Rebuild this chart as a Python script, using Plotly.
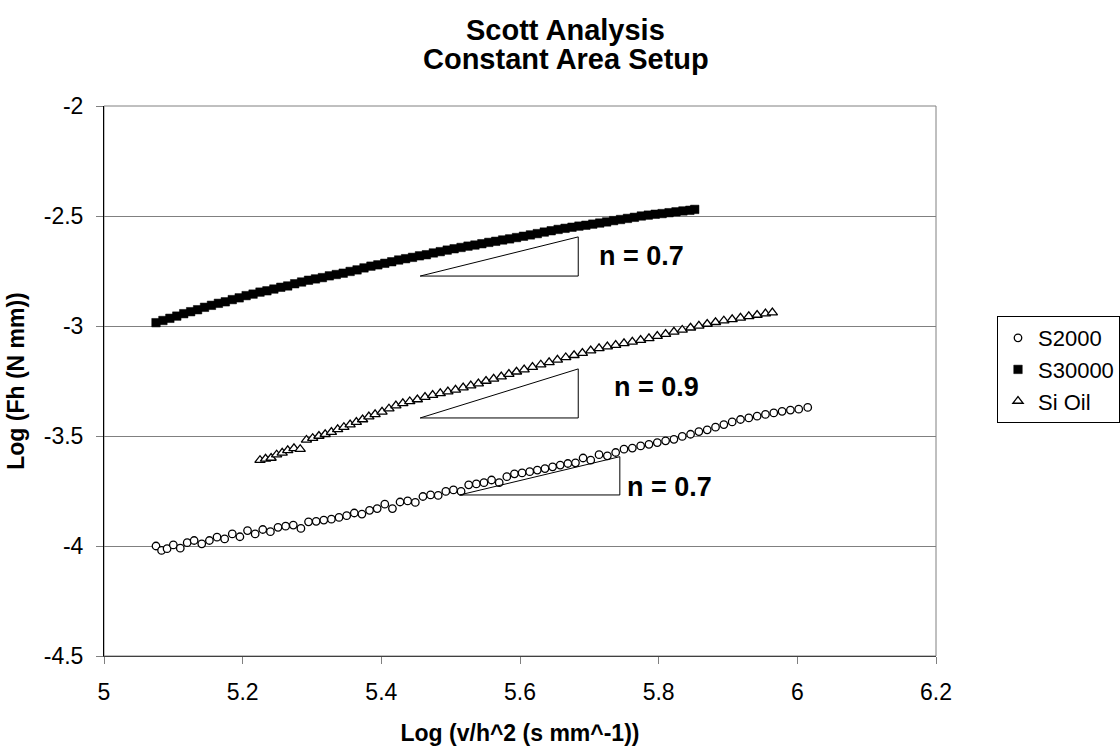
import plotly.graph_objects as go

FONT = "Liberation Sans, Arial, sans-serif"

title_lines = ["Scott Analysis", "Constant Area Setup"]
x_title = "Log (v/h^2 (s mm^-1))"
y_title = "Log (Fh (N mm))"
x_tickvals = [5, 5.2, 5.4, 5.6, 5.8, 6, 6.2]
x_ticktext = ["5", "5.2", "5.4", "5.6", "5.8", "6", "6.2"]
y_tickvals = [-4.5, -4, -3.5, -3, -2.5, -2]
y_ticktext = ["-4.5", "-4", "-3.5", "-3", "-2.5", "-2"]
series_names = ["S2000", "S30000", "Si Oil"]

s2000_x = [5.075, 5.083, 5.091, 5.100, 5.110, 5.120, 5.130, 5.141, 5.152, 5.163,
           5.174, 5.185, 5.196, 5.207, 5.218, 5.229, 5.240, 5.251, 5.262, 5.273,
           5.284, 5.295, 5.306, 5.317, 5.328, 5.339, 5.350, 5.361, 5.372, 5.383,
           5.394, 5.405, 5.416, 5.427, 5.438, 5.449, 5.460, 5.471, 5.482, 5.493,
           5.504, 5.515, 5.526, 5.537, 5.548, 5.559, 5.570, 5.581, 5.592, 5.603,
           5.614, 5.625, 5.636, 5.647, 5.658, 5.669, 5.680, 5.691, 5.702, 5.714,
           5.726, 5.738, 5.750, 5.762, 5.774, 5.786, 5.798, 5.810, 5.822, 5.834,
           5.846, 5.858, 5.870, 5.882, 5.894, 5.906, 5.918, 5.930, 5.942, 5.954,
           5.966, 5.978, 5.990, 6.002, 6.015]
s2000_y = [-4.000, -4.020, -4.012, -3.995, -4.010, -3.985, -3.975, -3.990, -3.975, -3.960,
           -3.968, -3.945, -3.958, -3.930, -3.945, -3.925, -3.935, -3.915, -3.910, -3.905,
           -3.920, -3.890, -3.888, -3.882, -3.878, -3.870, -3.862, -3.850, -3.855, -3.838,
           -3.830, -3.810, -3.830, -3.800, -3.795, -3.802, -3.775, -3.768, -3.770, -3.752,
           -3.745, -3.752, -3.722, -3.718, -3.712, -3.700, -3.712, -3.685, -3.672, -3.668,
           -3.662, -3.655, -3.648, -3.640, -3.632, -3.625, -3.622, -3.600, -3.610, -3.585,
           -3.590, -3.575, -3.560, -3.555, -3.545, -3.538, -3.530, -3.522, -3.515, -3.502,
           -3.492, -3.480, -3.472, -3.460, -3.448, -3.436, -3.425, -3.418, -3.410, -3.402,
           -3.395, -3.388, -3.382, -3.378, -3.370]

s30000_x = [5.075, 5.085, 5.095, 5.105, 5.115, 5.125, 5.135, 5.145, 5.155, 5.165,
            5.175, 5.185, 5.195, 5.205, 5.215, 5.225, 5.235, 5.245, 5.255, 5.265,
            5.275, 5.285, 5.295, 5.305, 5.315, 5.325, 5.335, 5.345, 5.355, 5.365,
            5.375, 5.385, 5.395, 5.405, 5.415, 5.425, 5.435, 5.445, 5.455, 5.465,
            5.475, 5.485, 5.495, 5.505, 5.515, 5.525, 5.535, 5.545, 5.555, 5.565,
            5.575, 5.585, 5.595, 5.605, 5.615, 5.625, 5.635, 5.645, 5.655, 5.665,
            5.675, 5.685, 5.695, 5.705, 5.715, 5.725, 5.735, 5.745, 5.755, 5.765,
            5.775, 5.785, 5.795, 5.805, 5.815, 5.825, 5.835, 5.845, 5.852]
s30000_y = [-2.985, -2.975, -2.965, -2.955, -2.944, -2.935, -2.926, -2.915, -2.906, -2.897,
            -2.890, -2.880, -2.872, -2.862, -2.855, -2.846, -2.840, -2.832, -2.824, -2.818,
            -2.808, -2.800, -2.792, -2.786, -2.780, -2.772, -2.766, -2.760, -2.752, -2.745,
            -2.736, -2.728, -2.722, -2.715, -2.708, -2.700, -2.694, -2.688, -2.681, -2.676,
            -2.668, -2.662, -2.655, -2.649, -2.643, -2.637, -2.632, -2.626, -2.620, -2.615,
            -2.609, -2.604, -2.598, -2.592, -2.586, -2.580, -2.573, -2.567, -2.561, -2.556,
            -2.551, -2.546, -2.542, -2.537, -2.532, -2.527, -2.521, -2.516, -2.511, -2.506,
            -2.500, -2.496, -2.492, -2.489, -2.485, -2.481, -2.477, -2.474, -2.470]

sioil_x = [5.225, 5.233, 5.241, 5.249, 5.257, 5.265, 5.274, 5.283, 5.292, 5.301,
           5.310, 5.319, 5.328, 5.337, 5.346, 5.355, 5.364, 5.373, 5.382, 5.391,
           5.401, 5.411, 5.421, 5.431, 5.441, 5.452, 5.463, 5.474, 5.485, 5.496,
           5.507, 5.518, 5.529, 5.540, 5.551, 5.562, 5.573, 5.584, 5.595, 5.606,
           5.618, 5.630, 5.642, 5.654, 5.666, 5.678, 5.690, 5.702, 5.714, 5.726,
           5.738, 5.750, 5.762, 5.774, 5.786, 5.798, 5.810, 5.822, 5.834, 5.846,
           5.858, 5.870, 5.882, 5.894, 5.906, 5.918, 5.930, 5.942, 5.954, 5.964]
sioil_y = [-3.610, -3.604, -3.600, -3.585, -3.577, -3.565, -3.556, -3.560, -3.518, -3.510,
           -3.500, -3.492, -3.482, -3.470, -3.460, -3.448, -3.437, -3.425, -3.412, -3.402,
           -3.390, -3.376, -3.362, -3.352, -3.343, -3.334, -3.323, -3.314, -3.306, -3.298,
           -3.290, -3.280, -3.271, -3.262, -3.250, -3.240, -3.230, -3.219, -3.208, -3.198,
           -3.187, -3.176, -3.165, -3.154, -3.143, -3.133, -3.123, -3.112, -3.102, -3.094,
           -3.087, -3.079, -3.072, -3.064, -3.056, -3.046, -3.037, -3.027, -3.018, -3.008,
           -2.999, -2.991, -2.983, -2.976, -2.970, -2.963, -2.956, -2.950, -2.944, -2.939]

# slope triangles (x_left, x_right, y_bottom, y_top) and labels
slope_x0 = [5.456, 5.456, 5.513]
slope_x1 = [5.684, 5.684, 5.744]
slope_y0 = [-2.773, -3.418, -3.768]
slope_y1 = [-2.595, -3.195, -3.594]
slope_labels = ["n = 0.7", "n = 0.9", "n = 0.7"]
label_x = [5.711, 5.733, 5.752]
label_y = [-2.682, -3.277, -3.732]

fig = go.Figure()
fig.add_trace(go.Scatter(
    x=s2000_x, y=s2000_y, mode="markers", name=series_names[0],
    marker=dict(symbol="circle", size=7.5, color="white",
                line=dict(color="black", width=1.3))))
fig.add_trace(go.Scatter(
    x=s30000_x, y=s30000_y, mode="markers", name=series_names[1],
    marker=dict(symbol="square", size=8.5, color="black",
                line=dict(color="black", width=0.5))))
fig.add_trace(go.Scatter(
    x=sioil_x, y=sioil_y, mode="markers", name=series_names[2],
    marker=dict(symbol="triangle-up", size=9, color="white",
                line=dict(color="black", width=1.3))))

for i in range(len(slope_labels)):
    fig.add_shape(type="path",
                  path=f"M {slope_x0[i]},{slope_y0[i]} L {slope_x1[i]},{slope_y0[i]} "
                       f"L {slope_x1[i]},{slope_y1[i]} Z",
                  xref="x", yref="y", line=dict(color="black", width=1),
                  fillcolor="rgba(0,0,0,0)", layer="above")
    fig.add_annotation(x=label_x[i], y=label_y[i], xref="x", yref="y",
                       text=f"<b>{slope_labels[i]}</b>", showarrow=False,
                       xanchor="left", yanchor="middle",
                       font=dict(family=FONT, size=27, color="black"))

# plot area border (top/right gray)
fig.add_shape(type="rect", xref="paper", yref="paper", x0=0, x1=1, y0=0, y1=1,
              line=dict(color="#808080", width=1), layer="below")

# title lines
fig.add_annotation(x=0.555, y=(656 - 30) / 550, xref="paper", yref="paper",
                   text=f"<b>{title_lines[0]}</b>", showarrow=False,
                   xanchor="center", yanchor="middle",
                   font=dict(family=FONT, size=29, color="black"))
fig.add_annotation(x=0.555, y=(656 - 59) / 550, xref="paper", yref="paper",
                   text=f"<b>{title_lines[1]}</b>", showarrow=False,
                   xanchor="center", yanchor="middle",
                   font=dict(family=FONT, size=29, color="black"))

fig.update_layout(
    width=1120, height=746, autosize=False,
    margin=dict(l=104, r=184, t=106, b=90, autoexpand=False),
    paper_bgcolor="white", plot_bgcolor="white",
    font=dict(family=FONT, size=23, color="black"),
    showlegend=True,
    legend=dict(xref="container", yref="container",
                x=997 / 1120, y=1 - 316 / 746,
                xanchor="left", yanchor="top",
                bgcolor="white", bordercolor="black", borderwidth=1,
                font=dict(family=FONT, size=22, color="black"),
                tracegroupgap=0, itemwidth=30),
    xaxis=dict(range=[5, 6.2], tickvals=x_tickvals, ticktext=x_ticktext,
               showgrid=False, zeroline=False,
               showline=True, linecolor="#404040", linewidth=1,
               ticks="outside", ticklen=7, tickcolor="#808080",
               ticklabelstandoff=8,
               tickfont=dict(family=FONT, size=23, color="black"),
               title=dict(text=f"<b>{x_title}</b>", standoff=22,
                          font=dict(family=FONT, size=23, color="black"))),
    yaxis=dict(range=[-4.5, -2], tickvals=y_tickvals, ticktext=y_ticktext,
               showgrid=True, gridcolor="#808080", gridwidth=1, zeroline=False,
               showline=True, linecolor="black", linewidth=1,
               ticks="outside", ticklen=7, tickcolor="#808080",
               ticklabelstandoff=8,
               tickfont=dict(family=FONT, size=23, color="black"),
               title=dict(text=f"<b>{y_title}</b>", standoff=12,
                          font=dict(family=FONT, size=23, color="black"))),
)

fig.write_html("out.html")
